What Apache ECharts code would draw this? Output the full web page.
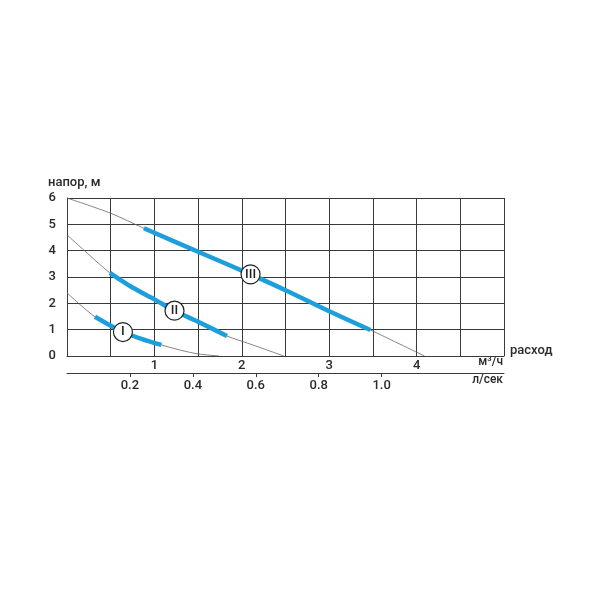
<!DOCTYPE html>
<html>
<head>
<meta charset="utf-8">
<script src="https://cdn.jsdelivr.net/npm/echarts@6/dist/echarts.min.js"></script>
<style>
  html, body { margin: 0; padding: 0; background: #fff; }
  #main { width: 600px; height: 600px; }
</style>
</head>
<body>
<div id="main"></div>
<script>
// расход, м3/ч — напор, м
var curve1Flow = [0, 0.15, 0.32, 0.5, 0.64, 0.85, 1.08, 1.3, 1.5, 1.74]
var curve1Head = [2.4, 1.95, 1.49, 1.15, 0.91, 0.65, 0.42, 0.22, 0.08, 0]
var curve2Flow = [0, 0.25, 0.49, 0.75, 1.0, 1.23, 1.5, 1.83, 2.1, 2.48]
var curve2Head = [4.6, 3.85, 3.16, 2.6, 2.15, 1.72, 1.3, 0.76, 0.45, 0]
var curve3Flow = [0, 0.5, 0.88, 1.5, 2.1, 2.5, 3.0, 3.47, 4.09]
var curve3Head = [6, 5.42, 4.85, 3.96, 3.1, 2.5, 1.7, 0.99, 0]
// рабочие участки (индексы точек кривой)
var work1 = [2, 6]
var work2 = [2, 7]
var work3 = [2, 7]
var speedNames = ['I', 'II', 'III']
var speedPoints = [[0.64, 0.91], [1.23, 1.72], [2.1, 3.1]]
var flowTicks = [1, 2, 3, 4]
var lsTicks = [0.2, 0.4, 0.6, 0.8, 1.0]

var FONT = 'Roboto, "DejaVu Sans Condensed", sans-serif'
var BLUE = '#1c9fdb'

function pts(fx, hy, from, to) {
  var out = []
  for (var i = from; i <= to; i++) out.push([fx[i], hy[i]])
  return out
}

function thin(fx, hy) {
  return {
    type: 'line', smooth: 0.3, symbol: 'none', silent: true,
    lineStyle: { color: '#666', width: 0.8 },
    data: pts(fx, hy, 0, fx.length - 1), z: 2
  }
}

function thick(fx, hy, w) {
  return {
    type: 'line', smooth: 0.3, symbol: 'none', silent: true,
    lineStyle: { color: BLUE, width: 4.5, cap: 'butt' },
    data: pts(fx, hy, w[0], w[1]), z: 3
  }
}

var labelStyle = { color: '#2a2a2a', fontFamily: FONT, fontSize: 13, fontWeight: 500 }

var myChart = echarts.init(document.getElementById('main'))
var option = {
  animation: false,
  grid: { left: 67, right: 96, top: 198, bottom: 244 },
  xAxis: [
    {
      type: 'value', min: 0, max: 5, interval: 0.5,
      axisLine: { show: true, lineStyle: { color: '#3a3a3a', width: 1 } },
      axisTick: { show: false },
      splitLine: { show: true, lineStyle: { color: '#3a3a3a', width: 1 } },
      axisLabel: Object.assign({ customValues: flowTicks, margin: 3 }, labelStyle)
    },
    {
      type: 'value', min: 0, max: 5, position: 'bottom', offset: 17,
      axisLine: { show: true, lineStyle: { color: '#3a3a3a', width: 1 } },
      axisTick: { show: true, length: 4, customValues: lsTicks.map(function (v) { return v * 3.6 }), lineStyle: { color: '#3a3a3a' } },
      splitLine: { show: false },
      axisLabel: Object.assign({
        customValues: lsTicks.map(function (v) { return v * 3.6 }),
        formatter: function (v) { return (v / 3.6).toFixed(1) },
        margin: 6
      }, labelStyle)
    }
  ],
  yAxis: {
    type: 'value', min: 0, max: 6, interval: 1,
    axisLine: { show: true, lineStyle: { color: '#3a3a3a', width: 1 } },
    axisTick: { show: false },
    splitLine: { show: true, lineStyle: { color: '#3a3a3a', width: 1 } },
    axisLabel: Object.assign({ margin: 11 }, labelStyle)
  },
  graphic: [
    { type: 'text', left: 48, top: 176, style: { text: 'напор, м', font: '500 13px ' + FONT, fill: '#2a2a2a' } },
    { type: 'text', left: 510, top: 344, style: { text: 'расход', font: '500 13px ' + FONT, fill: '#2a2a2a' } },
    { type: 'text', right: 97, top: 356, style: { text: 'м³/ч', font: '500 12px ' + FONT, fill: '#2a2a2a' } },
    { type: 'text', right: 97, top: 374, style: { text: 'л/сек', font: '500 12px ' + FONT, fill: '#2a2a2a' } }
  ],
  series: [
    thin(curve1Flow, curve1Head),
    thin(curve2Flow, curve2Head),
    thin(curve3Flow, curve3Head),
    thick(curve1Flow, curve1Head, work1),
    thick(curve2Flow, curve2Head, work2),
    thick(curve3Flow, curve3Head, work3),
    {
      type: 'scatter', symbol: 'circle', symbolSize: 19, silent: true, z: 5,
      itemStyle: { color: '#fff', borderColor: '#222', borderWidth: 1.2, opacity: 1 },
      label: {
        show: true, position: 'inside', color: '#222', fontFamily: FONT, fontSize: 13, fontWeight: 500,
        formatter: function (p) { return speedNames[p.dataIndex] }
      },
      data: speedPoints
    }
  ]
}
myChart.setOption(option)
</script>
</body>
</html>
